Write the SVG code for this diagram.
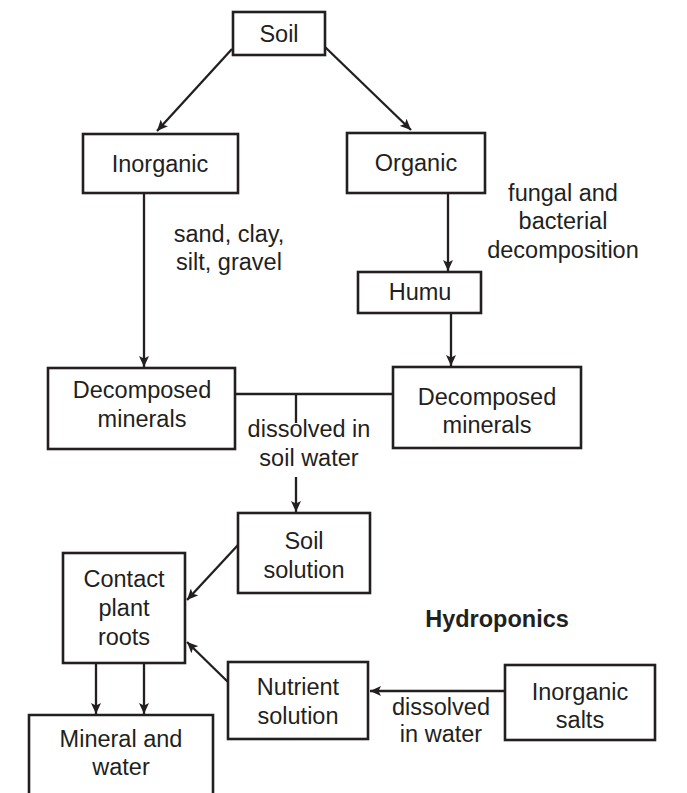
<svg xmlns="http://www.w3.org/2000/svg" width="687" height="793" viewBox="0 0 687 793">
<style>
.box{fill:#fff;stroke:#231f20;stroke-width:2.6}
.t{font-family:"Liberation Sans",Arial,sans-serif;font-size:23.5px;fill:#231f20;text-anchor:middle}
.b{font-weight:bold}
.c{stroke:#231f20;stroke-width:2.3;fill:none}
.a{marker-end:url(#ah)}
</style>
<defs>
<marker id="ah" markerUnits="userSpaceOnUse" markerWidth="12" markerHeight="10" refX="11" refY="5" orient="auto">
<path d="M0,0 L11,5 L0,10 L2.5,5 z" fill="#231f20"/>
</marker>
</defs>
<rect width="687" height="793" fill="#fff"/>
<g id="connectors">
<line class="c a" x1="232" y1="49" x2="157" y2="131"/>
<line class="c a" x1="325" y1="47" x2="411" y2="130"/>
<line class="c a" x1="144" y1="194" x2="144" y2="367"/>
<line class="c a" x1="448" y1="194" x2="448" y2="271"/>
<line class="c a" x1="451" y1="314" x2="451" y2="366"/>
<line class="c" x1="235" y1="394" x2="393" y2="394"/>
<line class="c" x1="296" y1="394" x2="296" y2="423"/>
<line class="c a" x1="296" y1="477" x2="296" y2="512"/>
<line class="c a" x1="238" y1="545" x2="187" y2="600"/>
<line class="c a" x1="228" y1="682" x2="187" y2="642"/>
<line class="c a" x1="505" y1="691" x2="370" y2="691"/>
<line class="c a" x1="96" y1="664" x2="96" y2="714"/>
<line class="c a" x1="144" y1="664" x2="144" y2="714"/>
</g>
<g id="soil"><rect class="box" x="233" y="12" width="92" height="43"/><text class="t" x="279" y="42">Soil</text></g>
<g id="inorganic"><rect class="box" x="83" y="134" width="155" height="59"/><text class="t" x="160" y="172">Inorganic</text></g>
<g id="organic"><rect class="box" x="347" y="133" width="138" height="60"/><text class="t" x="416" y="171">Organic</text></g>
<g id="humu"><rect class="box" x="358" y="272" width="123" height="41"/><text class="t" x="420" y="300">Humu</text></g>
<g id="decomposed-left"><rect class="box" x="48" y="368" width="187" height="81"/><text class="t" x="142" y="398">Decomposed</text><text class="t" x="142" y="427">minerals</text></g>
<g id="decomposed-right"><rect class="box" x="393" y="367" width="188" height="81"/><text class="t" x="487" y="405">Decomposed</text><text class="t" x="487" y="433">minerals</text></g>
<g id="soil-solution"><rect class="box" x="238" y="513" width="132" height="80"/><text class="t" x="304" y="549">Soil</text><text class="t" x="304" y="578">solution</text></g>
<g id="contact-plant-roots"><rect class="box" x="63" y="553" width="122" height="110"/><text class="t" x="124" y="587">Contact</text><text class="t" x="124" y="616">plant</text><text class="t" x="124" y="645">roots</text></g>
<g id="nutrient-solution"><rect class="box" x="228" y="662" width="140" height="77"/><text class="t" x="298" y="695">Nutrient</text><text class="t" x="298" y="724">solution</text></g>
<g id="inorganic-salts"><rect class="box" x="505" y="665" width="150" height="75"/><text class="t" x="580" y="700">Inorganic</text><text class="t" x="580" y="728">salts</text></g>
<g id="mineral-water"><path class="box" d="M29,800 V715 H213 V800"/><text class="t" x="121" y="747">Mineral and</text><text class="t" x="121" y="775">water</text></g>
<g id="labels">
<text class="t" x="563" y="201">fungal and</text>
<text class="t" x="563" y="229">bacterial</text>
<text class="t" x="563" y="258">decomposition</text>
<text class="t" x="229" y="242">sand, clay,</text>
<text class="t" x="229" y="270">silt, gravel</text>
<text class="t" x="309" y="437">dissolved in</text>
<text class="t" x="309" y="466">soil water</text>
<text class="t" x="441" y="715">dissolved</text>
<text class="t" x="441" y="742">in water</text>
<text class="t b" x="497" y="627">Hydroponics</text>
</g>
</svg>
